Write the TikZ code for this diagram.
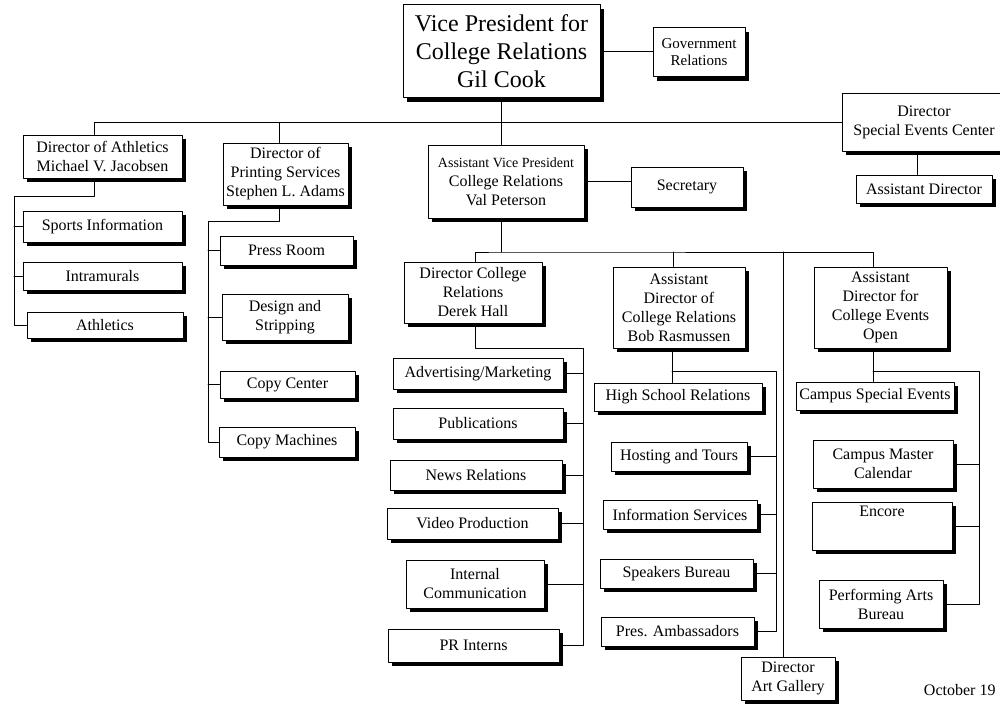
\documentclass[tikz,border=0pt]{standalone}
\usepackage{fontspec}
\setmainfont{Liberation Serif}
\usetikzlibrary{shadows}
\begin{document}
\begin{tikzpicture}[x=1pt, y=-1pt, line cap=round, line join=round, line width=1pt, font=\fontsize{16}{19}\selectfont]
	\tikzset{box/.style={draw, fill=white, align=center, inner sep=1pt, drop shadow={fill=black, opacity=1, shadow xshift=4pt, shadow yshift=-4pt}},
		sized/.style 2 args={minimum width=#1pt, minimum height=#2pt}}
	\useasboundingbox (0,0) rectangle (1000,706);
	\node[box, sized={197}{93}, font=\fontsize{24}{28}\selectfont] (vp) at (501.5,51.5) {Vice President for\\College Relations\\Gil Cook};
	\node[box, sized={92}{49}, font=\fontsize{15}{17}\selectfont] (gov) at (699,52.5) {Government\\Relations};
	\node[box, sized={164}{57}] (sedir) at (924,122.5) {Director\\Special Events Center};
	\node[box, sized={136}{28}] (asst) at (924,189) {Assistant Director};
	\node[box, sized={159}{43}] (athdir) at (102.5,156.5) {Director of Athletics\\Michael V. Jacobsen};
	\node[box, sized={159}{31}] (sports) at (102.5,226.5) {Sports Information};
	\node[box, sized={159}{28}] (intra) at (102.5,276) {Intramurals};
	\node[box, sized={156}{26}] (athl) at (105,325) {Athletics};
	\node[box, sized={125}{62}] (print) at (285.5,174) {Director of\\Printing Services\\Stephen L. Adams};
	\node[box, sized={133}{29}] (press) at (286.5,250.5) {Press Room};
	\node[box, sized={126}{46}] (design) at (285,317) {Design and\\Stripping};
	\node[box, sized={135}{27}] (copyc) at (287.5,384.5) {Copy Center};
	\node[box, sized={136}{30}] (copym) at (287,442) {Copy Machines};
	\node[box, sized={156}{73}] (avp) at (506,181.5) {{\fontsize{14}{17}\selectfont Assistant Vice President}\\College Relations\\Val Peterson};
	\node[box, sized={112}{40}] (sec) at (687,187) {Secretary};
	\node[box, sized={138}{61}] (dch) at (473,292.5) {Director College\\Relations\\Derek Hall};
	\node[box, sized={170}{31}] (adv) at (478,373.5) {Advertising/Marketing};
	\node[box, sized={170}{31}] (pub) at (478,423.5) {Publications};
	\node[box, sized={172}{30}] (news) at (476,475) {News Relations};
	\node[box, sized={171}{31}] (video) at (472.5,523.5) {Video Production};
	\node[box, sized={138}{48}] (intcom) at (475,584) {Internal\\Communication};
	\node[box, sized={171}{33}] (prin) at (473.5,645.5) {PR Interns};
	\node[box, sized={132}{81}] (bob) at (679,307.5) {Assistant\\Director of\\College Relations\\Bob Rasmussen};
	\node[box, sized={168}{28}] (hs) at (678,397) {High School Relations};
	\node[box, sized={136}{29}] (host) at (679,456.5) {Hosting and Tours};
	\node[box, sized={154}{29}] (info) at (680,514.5) {Information Services};
	\node[box, sized={153}{29}] (speak) at (676.5,573.5) {Speakers Bureau};
	\node[box, sized={153}{29}] (pres) at (677.5,631.5) {Pres. Ambassadors};
	\node[box, sized={133}{81}] (ace) at (880.5,307.5) {Assistant\\Director for\\College Events\\Open};
	\node[box, sized={158}{28}] (cse) at (875,396) {Campus Special Events};
	\node[box, sized={140}{48}] (cmc) at (883,464) {Campus Master\\Calendar};
	\node[box, sized={140}{48}, text depth=30pt] (encore) at (882,526) {Encore};
	\node[box, sized={124}{48}] (pab) at (881,604) {Performing Arts\\Bureau};
	\node[box, sized={94}{43}] (art) at (788,678.5) {Director\\Art Gallery};
	\node[anchor=base east, inner sep=0pt] (date) at (996,695) {October 19};
	\draw (vp.east) -- (vp.east -| gov.west);
	\draw ([xshift=-8pt]athdir.north) |- (sedir.west);
	\draw ([xshift=-6.5pt]print.north) -- ([xshift=-6.5pt]print.north |- sedir.west);
	\draw (vp.south) -- (vp.south |- avp.north);
	\draw (avp.east) -- (avp.east -| sec.west);
	\draw ([xshift=-7pt]asst.north) -- ([xshift=-7pt]asst.north |- sedir.south);
	\coordinate (athbus) at (14,196);
	\draw ([xshift=-8pt]athdir.south) |- (athbus) |- (athl.west);
	\foreach \n in {sports,intra} \draw (\n.west) -- (\n.west -| athbus);
	\coordinate (prbus) at (208,221);
	\draw ([xshift=-6.5pt]print.south) |- (prbus) |- (copym.west);
	\foreach \n in {press,design,copyc} \draw (\n.west) -- (\n.west -| prbus);
	\coordinate (avpbus) at (501.5,252);
	\draw (avpbus |- avp.south) -- (avpbus);
	\draw ([xshift=2pt]dch.north) |- (avpbus) -| ([xshift=-7.5pt]ace.north);
	\draw ([xshift=-6pt]bob.north) -- ([xshift=-6pt]bob.north |- avpbus);
	\draw ([xshift=-5pt]art.north) -- ([xshift=-5pt]art.north |- avpbus);
	\coordinate (dchbus) at (583,348);
	\draw ([xshift=2pt]dch.south) |- (dchbus) |- (prin.east);
	\foreach \n in {adv,pub,news,video,intcom} \draw (\n.east) -- (\n.east -| dchbus);
	\coordinate (bobbus) at (776,371);
	\draw ([xshift=-7pt]bob.south) -- ([xshift=-7pt]bob.south |- hs.north);
	\draw ([xshift=-7pt]bob.south |- bobbus) -- (bobbus) |- (pres.east);
	\foreach \n in {host,info,speak} \draw (\n.east) -- (\n.east -| bobbus);
	\coordinate (acebus) at (979,371);
	\draw ([xshift=-7.5pt]ace.south) -- ([xshift=-7.5pt]ace.south |- cse.north);
	\draw ([xshift=-7.5pt]ace.south |- acebus) -- (acebus) |- (pab.east);
	\foreach \n in {cmc,encore} \draw (\n.east) -- (\n.east -| acebus);
\end{tikzpicture}
\end{document}
